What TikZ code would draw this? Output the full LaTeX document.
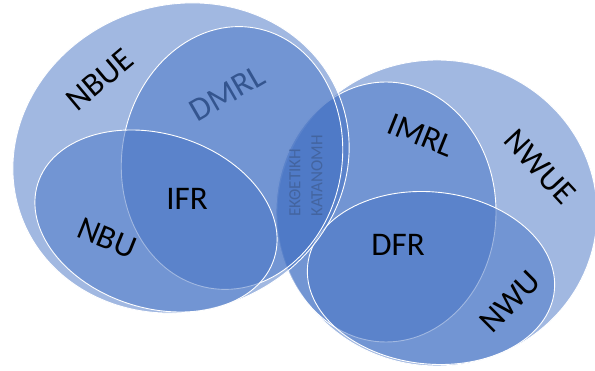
\documentclass[tikz,border=0pt]{standalone}
\usepackage{fontspec}
\setmainfont{Carlito}
\usepackage{tikz}
\definecolor{setblue}{HTML}{4472C4}
\definecolor{dmrlblue}{HTML}{34558F}
\definecolor{expblue}{HTML}{43649F}

\begin{document}
\begin{tikzpicture}[x=1pt,y=-1pt,
    set/.style={fill=setblue,fill opacity=0.5,draw=white,line width=0.9pt},
    lab/.style={font=\fontsize{33}{36}\selectfont,inner sep=0pt}]
  \useasboundingbox (0,0) rectangle (595,371);
  \draw[set] (437,213) ellipse [x radius=160,y radius=153];
  \draw[set] (386,212) ellipse [x radius=110,y radius=130];
  \draw[set,rotate around={-6:(431,278)}] (431,278) ellipse [x radius=124,y radius=86];
  \draw[set,rotate around={20:(181,158)}] (181,158) ellipse [x radius=170,y radius=153];
  \draw[set,rotate around={-10:(232,158)}] (232,158) ellipse [x radius=110,y radius=132];
  \draw[set,rotate around={-17.6:(156,221)}] (156,221) ellipse [x radius=124,y radius=87];
  \node (nbue) at (100,80) [lab,rotate=40] {NBUE};
  \node (dmrl) at (227,93) [lab,rotate=30,text=dmrlblue] {DMRL};
  \node (ifr) at (187,199) [lab] {IFR};
  \node (nbu) at (107,238) [lab,rotate=-22] {NBU};
  \node (imrl) at (421,135) [lab,rotate=-22] {IMRL};
  \node (nwue) at (540,167) [lab,rotate=-47] {NWUE};
  \node (dfr) at (398,245) [lab] {DFR};
  \node (nwu) at (510,302) [lab,rotate=45] {NWU};
  \node (exp) at (306,176) [rotate=90,align=left,inner sep=0pt,text=expblue,
    font=\fontsize{17}{22}\selectfont] {ΕΚΘΕΤΙΚΗ\\ΚΑΤΑΝΟΜΗ};
\end{tikzpicture}
\end{document}
